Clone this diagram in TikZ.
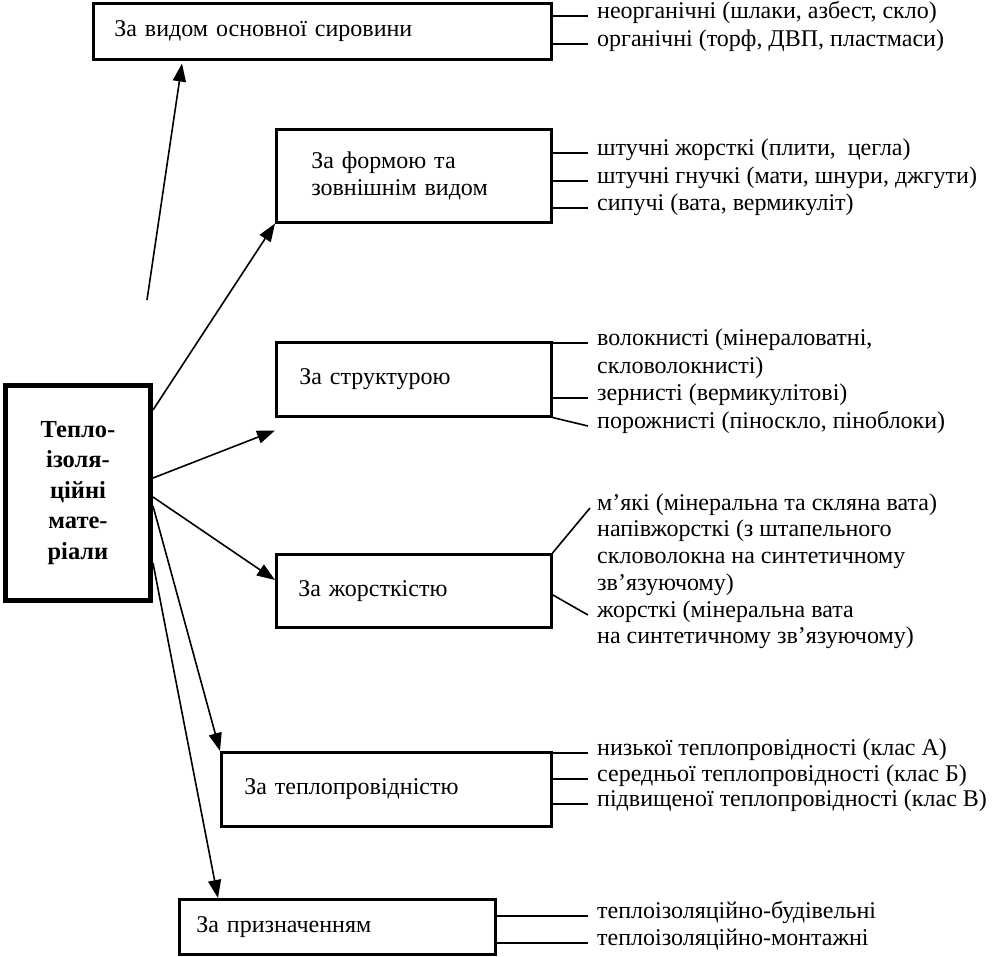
\documentclass[tikz,border=0pt]{standalone}
\usepackage{fontspec}
\setmainfont{Liberation Serif}
\usetikzlibrary{arrows.meta,calc}
\begin{document}
\begin{tikzpicture}[x=1pt,y=-1pt,
  txt/.style={font=\fontsize{24}{27}\selectfont},
  box/.style={txt,draw,line width=2.5pt,rectangle,anchor=north west,inner ysep=0pt,align=left},
  mainbox/.style={draw,line width=5pt,rectangle,anchor=north west,align=center,
    font=\fontsize{24.5}{30.5}\selectfont\bfseries,inner sep=0pt},
  item/.style={txt,anchor=mid west,inner sep=0pt},
  lead/.style={line width=1.6pt},
  arr/.style={line width=1.6pt,-{Triangle[length=18pt,width=13pt]}}]
\useasboundingbox (0,0) rectangle (993,956);

% main node
\node[mainbox,minimum width=145pt,minimum height=215pt] (m) at (3,383)
  {Тепло-\\ізоля-\\ційні\\мате-\\ріали};

% category boxes
\node[box,minimum width=458pt,minimum height=56pt,text width=416pt,inner xsep=21pt] (b1) at (92,2) {За видом основної сировини};
\node[box,minimum width=275pt,minimum height=93pt,text width=205pt,inner xsep=35pt] (b2) at (275,128) {За формою та\\зовнішнім видом};
\node[box,minimum width=275pt,minimum height=74pt,text width=229pt,inner xsep=23pt] (b3) at (275,341) {За структурою};
\node[box,minimum width=275pt,minimum height=73pt,text width=231pt,inner xsep=22pt] (b4) at (275,553) {За жорсткістю};
\node[box,minimum width=330pt,minimum height=74pt,text width=284pt,inner xsep=23pt] (b5) at (220,751) {За теплопровідністю};
\node[box,minimum width=316pt,minimum height=55pt,text width=282pt,inner xsep=17pt] (b6) at (178,898) {За призначенням};

% item texts
\node[item] (t11) at (597,16) {неорганічні (шлаки, азбест, скло)};
\node[item] (t12) at (597,44) {органічні (торф, ДВП, пластмаси)};
\node[item] (t21) at (597,153) {штучні жорсткі (плити,\ \ цегла)};
\node[item] (t22) at (597,181) {штучні гнучкі (мати, шнури, джгути)};
\node[item] (t23) at (597,208) {сипучі (вата, вермикуліт)};
\node[item] (t31) at (597,343) {волокнисті (мінераловатні,};
\node[item] (t32) at (597,371) {скловолокнисті)};
\node[item] (t33) at (597,398) {зернисті (вермикулітові)};
\node[item] (t34) at (597,426) {порожнисті (піноскло, піноблоки)};
\node[item] (t41) at (597,508) {м'які (мінеральна та скляна вата)};
\node[item] (t42) at (597,534) {напівжорсткі (з штапельного};
\node[item] (t43) at (597,561) {скловолокна на синтетичному};
\node[item] (t44) at (597,588) {зв'язуючому)};
\node[item] (t45) at (597,615) {жорсткі (мінеральна вата};
\node[item] (t46) at (597,641) {на синтетичному зв'язуючому)};
\node[item] (t51) at (597,753) {низької теплопровідності (клас А)};
\node[item] (t52) at (597,779) {середньої теплопровідності (клас Б)};
\node[item] (t53) at (597,804) {підвищеної теплопровідності (клас В)};
\node[item] (t61) at (597,916) {теплоізоляційно-будівельні};
\node[item] (t62) at (597,943) {теплоізоляційно-монтажні};

% leaders
\foreach \b/\t in {b1/t11,b1/t12,b2/t21,b2/t22,b2/t23,b3/t31,b3/t33,b5/t51,b5/t52,b5/t53,b6/t61,b6/t62}
  \draw[lead] (\b.east |- \t.mid west) -- ([xshift=-9pt]\t.mid west);
\draw[lead] (b3.south east) -- ([xshift=-9pt]t34.mid west);
\draw[lead] (b4.north east) -- ([xshift=-7pt]t41.mid west);
\draw[lead] ($(b4.east)+(0,4)$) -- ([xshift=-9pt]t45.mid west);

% arrows
\coordinate (s1) at (147,300);
\draw[arr] (s1) -- ($(b1.south west)+(90,3)$);
\draw[arr] ($(m.north east)+(0,27)$) -- (b2.south west);
\draw[arr] ($(m.north east)+(0,95)$) -- ($(b3.south west)+(0,13)$);
\draw[arr] ($(m.north east)+(0,114)$) -- ($(b4.north west)+(0,27)$);
\draw[arr] ($(m.north east)+(0,123)$) -- (b5.north west);
\draw[arr] ($(m.north east)+(0,180)$) -- ($(b6.north west)+(40,0)$);
\end{tikzpicture}
\end{document}
